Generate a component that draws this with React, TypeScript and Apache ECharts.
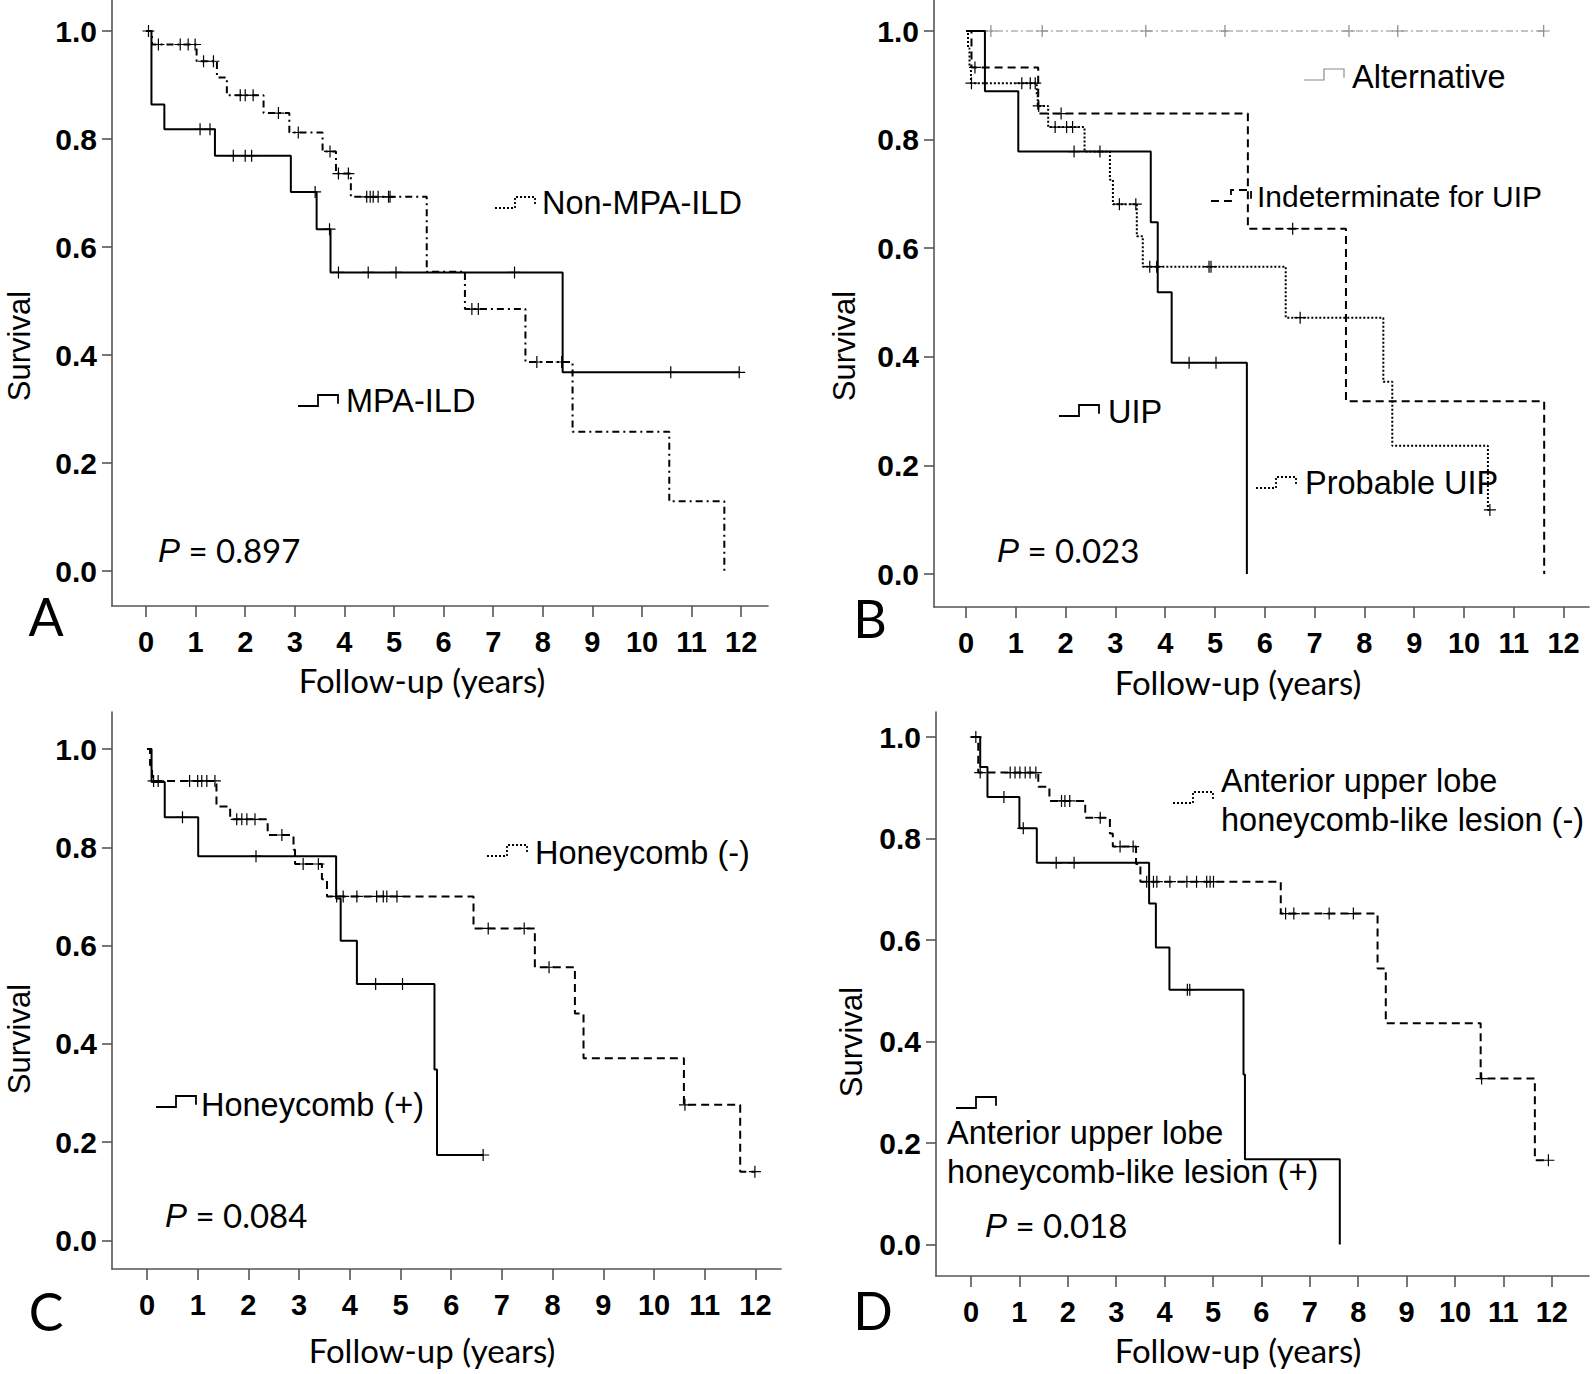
import React, { useEffect, useRef } from "react";
import * as echarts from "echarts";

// ---------------- DATA ----------------
// Panel A
const aMpaTimes = [0, 0.11, 0.37, 1.39, 2.92, 3.44, 3.72, 8.4, 11.96];
const aMpaSurv = [1, 0.864, 0.818, 0.769, 0.702, 0.633, 0.553, 0.368, 0.368];
const aMpaCensor = [1.09, 1.29, 1.76, 2.0, 2.13, 3.41, 3.7, 3.88, 4.48, 5.04, 7.43, 10.58, 11.96];

const aNonTimes = [0, 0.12, 1.02, 1.43, 1.63, 2.37, 2.89, 3.56, 3.83, 4.13, 5.66, 6.43, 7.65, 8.6, 10.55, 11.66];
const aNonSurv = [1, 0.975, 0.944, 0.914, 0.881, 0.848, 0.812, 0.777, 0.736, 0.693, 0.554, 0.485, 0.387, 0.258, 0.129, 0];
const aNonCensor = [0.05, 0.25, 0.69, 0.85, 0.99, 1.16, 1.36, 1.9, 2.0, 2.16, 2.67, 3.07, 3.71, 3.88, 4.08, 4.45, 4.52, 4.58, 4.68, 4.89, 4.92, 6.57, 6.7, 7.88, 8.38];

// Panel B
const bAltTimes = [0, 11.6];
const bAltSurv = [1, 1];
const bAltCensor = [0.5, 1.53, 3.61, 5.2, 7.69, 8.67, 11.6];

const bIndTimes = [0, 0.11, 1.45, 5.66, 7.63, 11.61];
const bIndSurv = [1, 0.933, 0.848, 0.636, 0.318, 0];
const bIndCensor = [0.18, 1.91, 6.56];

const bUipTimes = [0, 0.38, 1.05, 3.71, 3.85, 4.13, 5.64];
const bUipSurv = [1, 0.889, 0.778, 0.648, 0.519, 0.389, 0];
const bUipCensor = [2.17, 4.48, 5.02];

const bProbTimes = [0, 0.04, 0.07, 0.1, 1.42, 1.44, 1.65, 2.38, 2.89, 2.95, 3.43, 3.55, 6.42, 8.38, 8.56, 10.48, 10.52];
const bProbSurv = [1, 0.968, 0.936, 0.904, 0.882, 0.862, 0.823, 0.778, 0.726, 0.681, 0.622, 0.566, 0.472, 0.354, 0.236, 0.118, 0.118];
const bProbCensor = [0.11, 1.12, 1.29, 1.39, 1.46, 1.79, 2.02, 2.14, 2.69, 3.08, 3.41, 3.69, 3.83, 4.88, 4.92, 6.71, 10.52];

// Panel C
const cPosTimes = [0, 0.09, 0.35, 1.01, 3.73, 3.82, 4.14, 5.67, 5.72, 6.63];
const cPosSurv = [1, 0.933, 0.861, 0.782, 0.696, 0.61, 0.522, 0.348, 0.174, 0.174];
const cPosCensor = [0.7, 2.15, 4.51, 5.04, 6.63];

const cNegTimes = [0, 0.06, 0.1, 1.37, 1.64, 2.38, 2.89, 2.92, 3.45, 3.55, 6.44, 7.65, 8.44, 8.61, 10.59, 11.7, 11.99];
const cNegSurv = [1, 0.967, 0.935, 0.883, 0.857, 0.825, 0.795, 0.766, 0.735, 0.7, 0.635, 0.556, 0.462, 0.371, 0.276, 0.14, 0.14];
const cNegCensor = [0.13, 0.22, 0.84, 1.0, 1.08, 1.18, 1.34, 1.77, 1.87, 1.97, 2.13, 2.66, 3.08, 3.38, 3.74, 3.87, 4.14, 4.53, 4.66, 4.73, 4.93, 6.73, 7.44, 7.93, 10.61, 11.99];

// Panel D
const dPosTimes = [0, 0.19, 0.34, 1.0, 1.36, 3.68, 3.82, 4.1, 5.63, 5.66, 7.62];
const dPosSurv = [1, 0.941, 0.882, 0.82, 0.752, 0.672, 0.585, 0.502, 0.335, 0.168, 0];
const dPosCensor = [0.68, 1.08, 1.76, 2.13, 4.47, 4.52];

const dNegTimes = [0, 0.15, 1.39, 1.62, 2.36, 2.87, 2.93, 3.41, 3.5, 6.4, 8.4, 8.57, 10.53, 11.65, 11.93];
const dNegSurv = [1, 0.93, 0.902, 0.874, 0.841, 0.81, 0.784, 0.75, 0.715, 0.652, 0.544, 0.436, 0.327, 0.166, 0.166];
const dNegCensor = [0.1, 0.19, 0.81, 0.91, 1.01, 1.12, 1.22, 1.34, 1.87, 1.94, 2.04, 2.67, 3.08, 3.35, 3.63, 3.77, 3.84, 4.11, 4.46, 4.66, 4.87, 4.94, 5.01, 6.5, 6.67, 7.4, 7.9, 10.55, 11.93];

const xTickValues = [0, 1, 2, 3, 4, 5, 6, 7, 8, 9, 10, 11, 12];
const yTickValues = [0, 0.2, 0.4, 0.6, 0.8, 1.0];

const pValues = ["0.897", "0.023", "0.084", "0.018"];
const panelLetters = ["A", "B", "C", "D"];

// ---------------- LAYOUT / STYLE ----------------
const panels = [
  { left: 112, right: 768, top: 0, bottom: 606, x0: 146, step: 49.6, y1: 31, y0: 571 },
  { left: 934, right: 1589, top: 0, bottom: 607, x0: 966, step: 49.8, y1: 31, y0: 574 },
  { left: 112, right: 781, top: 712, bottom: 1269, x0: 147, step: 50.7, y1: 749, y0: 1240.5 },
  { left: 936, right: 1589, top: 712, bottom: 1276, x0: 971, step: 48.4, y1: 737, y0: 1244.5 },
];

const STYLES: Record<string, any> = {
  solid: { color: "#000", width: 2, type: "solid" },
  dashdot: { color: "#000", width: 2, type: [7, 4, 2, 4] },
  dashed: { color: "#000", width: 2, type: [8, 5] },
  dotted: { color: "#000", width: 2, type: [2, 2] },
  alt: { color: "#8a8a8a", width: 1.2, type: [7, 3, 2, 3] },
};

const curves = [
  { g: 0, t: aMpaTimes, s: aMpaSurv, c: aMpaCensor, st: "solid" },
  { g: 0, t: aNonTimes, s: aNonSurv, c: aNonCensor, st: "dashdot" },
  { g: 1, t: bAltTimes, s: bAltSurv, c: bAltCensor, st: "alt" },
  { g: 1, t: bIndTimes, s: bIndSurv, c: bIndCensor, st: "dashed" },
  { g: 1, t: bUipTimes, s: bUipSurv, c: bUipCensor, st: "solid" },
  { g: 1, t: bProbTimes, s: bProbSurv, c: bProbCensor, st: "dotted" },
  { g: 2, t: cPosTimes, s: cPosSurv, c: cPosCensor, st: "solid" },
  { g: 2, t: cNegTimes, s: cNegSurv, c: cNegCensor, st: "dashed" },
  { g: 3, t: dPosTimes, s: dPosSurv, c: dPosCensor, st: "solid" },
  { g: 3, t: dNegTimes, s: dNegSurv, c: dNegCensor, st: "dashed" },
];

function survAt(times: number[], surv: number[], t: number) {
  let s = surv[0];
  for (let i = 0; i < times.length; i++) if (times[i] <= t) s = surv[i];
  return s;
}

const ARIAL = '"Liberation Sans", Arial, sans-serif';
const CALIBRI = 'Lato, "Open Sans", sans-serif';
const LEG = 32.5;

function swatch(x: number, y: number, st: string) {
  const s = STYLES[st];
  const w = 40, h = 11;
  const dash = st === "alt" ? null : Array.isArray(s.type) ? s.type : null;
  return {
    type: "polyline",
    shape: { points: [[x, y + h], [x + w * 0.5, y + h], [x + w * 0.5, y], [x + w, y], [x + w, y + h * 0.8]] },
    style: { stroke: s.color, lineWidth: st === "alt" ? 1.2 : 1.8, lineDash: dash, fill: null },
    silent: true,
  };
}
function label(x: number, y: number, text: string, size = LEG, align = "left") {
  return {
    type: "text", x, y, silent: true,
    style: { text, fill: "#000", font: `${size}px ${ARIAL}`, align, verticalAlign: "middle" },
  };
}

export default function App() {
  const ref = useRef<HTMLDivElement>(null);
  useEffect(() => {
    if (!ref.current) return;
    const chart = echarts.init(ref.current, undefined, { renderer: "svg" });

    const grids: any[] = [], xAxes: any[] = [], yAxes: any[] = [];
    panels.forEach((p, i) => {
      const xmin = (p.left - p.x0) / p.step;
      const xmax = (p.right - p.x0) / p.step;
      const unit = p.y0 - p.y1;
      const ymax = 1 + (p.y1 - p.top) / unit;
      const ymin = -(p.bottom - p.y0) / unit;
      grids.push({ left: p.left, top: p.top, width: p.right - p.left, height: p.bottom - p.top });
      const axisLine = { show: true, onZero: false, lineStyle: { color: "#555", width: 1.6 } };
      xAxes.push({
        type: "value", gridIndex: i, min: xmin, max: xmax,
        axisLine,
        axisTick: { show: true, customValues: xTickValues, length: 11, lineStyle: { color: "#555", width: 1.6 } },
        axisLabel: { customValues: xTickValues, fontSize: 29, fontWeight: "bold", fontFamily: ARIAL, color: "#000", margin: 21 },
        splitLine: { show: false },
      });
      yAxes.push({
        type: "value", gridIndex: i, min: ymin, max: ymax,
        axisLine,
        axisTick: { show: true, customValues: yTickValues, length: 10, lineStyle: { color: "#555", width: 1.6 } },
        axisLabel: {
          customValues: yTickValues, fontSize: 30, fontWeight: "bold", fontFamily: ARIAL, color: "#000", margin: 15,
          formatter: (v: number) => v.toFixed(1),
        },
        splitLine: { show: false },
      });
    });

    const series: any[] = [];
    curves.forEach((c) => {
      const s = STYLES[c.st];
      series.push({
        type: "line", xAxisIndex: c.g, yAxisIndex: c.g, step: "end", showSymbol: false, silent: true,
        data: c.t.map((t, i) => [t, c.s[i]]),
        lineStyle: { color: s.color, width: s.width, type: s.type },
        clip: false,
      });
      series.push({
        type: "scatter", xAxisIndex: c.g, yAxisIndex: c.g, silent: true,
        symbol: "path://M6,0L6,12M0,6L12,6", symbolSize: 12,
        data: c.c.map((t) => [t, survAt(c.t, c.s, t)]),
        itemStyle: { color: "rgba(0,0,0,0)", borderColor: c.st === "alt" ? "#8a8a8a" : "#000", borderWidth: 1.2, opacity: 1 },
      });
    });

    const graphics: any[] = [];
    graphics.push(swatch(495, 197, "dotted"), label(542, 203, "Non-MPA-ILD"));
    graphics.push(swatch(298, 395, "solid"), label(346, 401, "MPA-ILD"));
    graphics.push(swatch(1304, 69, "alt"), label(1352, 77, "Alternative"));
    graphics.push(swatch(1211, 190, "dashed"), label(1257, 196, "Indeterminate for UIP", 30));
    graphics.push(swatch(1059, 405, "solid"), label(1108, 412, "UIP"));
    graphics.push(swatch(1256, 477, "dotted"), label(1305, 483, "Probable UIP"));
    graphics.push(swatch(487, 845, "dotted"), label(535, 853, "Honeycomb (-)"));
    graphics.push(swatch(156, 1096, "solid"), label(201, 1105, "Honeycomb (+)"));
    graphics.push(swatch(1173, 792, "dotted"), label(1221, 781, "Anterior upper lobe"), label(1221, 820, "honeycomb-like lesion (-)"));
    graphics.push(swatch(956, 1097, "solid"), label(947, 1133, "Anterior upper lobe"), label(947, 1172, "honeycomb-like lesion (+)"));

    const pPos = [[158, 550], [997, 550], [165, 1215], [985, 1225]];
    pPos.forEach((pp, i) => {
      graphics.push({
        type: "text", x: pp[0], y: pp[1], silent: true,
        style: {
          text: `{p|P}{n| = ${pValues[i]}}`, verticalAlign: "middle", align: "left",
          rich: {
            p: { fontStyle: "italic", fontFamily: ARIAL, fontSize: 33, fill: "#000" },
            n: { fontFamily: CALIBRI, fontSize: 33, fill: "#000" },
          },
        },
      });
    });

    const survPos = [[19, 346], [844, 346], [19, 1039], [851, 1042]];
    survPos.forEach((sp) => {
      graphics.push({
        type: "text", x: sp[0], y: sp[1], rotation: Math.PI / 2, silent: true,
        style: { text: "Survival", font: `31px ${ARIAL}`, fill: "#000", align: "center", verticalAlign: "middle" },
      });
    });
    const fuPos = [[422, 680], [1238, 682], [432, 1350], [1238, 1350]];
    fuPos.forEach((fp) => {
      graphics.push({
        type: "text", x: fp[0], y: fp[1], silent: true,
        style: { text: "Follow-up (years)", font: `33px ${CALIBRI}`, fill: "#000", align: "center", verticalAlign: "middle" },
      });
    });
    const letterPos = [[46, 616], [870, 618], [46, 1311], [873, 1310]];
    letterPos.forEach((lp, i) => {
      graphics.push({
        type: "text", x: lp[0], y: lp[1], silent: true,
        style: { text: panelLetters[i], font: `52px ${CALIBRI}`, fill: "#000", align: "center", verticalAlign: "middle" },
      });
    });

    chart.setOption({
      animation: false,
      backgroundColor: "#fff",
      grid: grids,
      xAxis: xAxes,
      yAxis: yAxes,
      series,
      graphic: graphics,
    });
    return () => chart.dispose();
  }, []);
  return <div ref={ref} style={{ position: "absolute", left: 0, top: 0, width: 1594, height: 1374, background: "#fff" }} />;
}
